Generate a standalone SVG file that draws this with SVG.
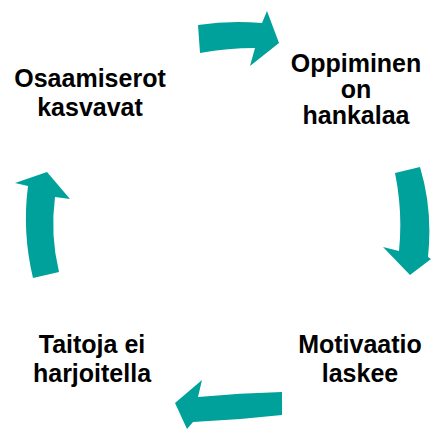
<svg xmlns="http://www.w3.org/2000/svg" width="431" height="430" viewBox="0 0 431 430">
<style>
.arr{fill:#00A19A;stroke:none}
.lbl{font-family:"Liberation Sans",Arial,sans-serif;font-weight:bold;font-size:25px;fill:#000;text-anchor:middle}
</style>
<rect width="431" height="430" fill="#fff"/>
<g id="connectors">
<path class="arr" d="M198,25 Q230,20 262,23 L267,11 L279,43 L250,66 L255,48 Q228,48 200,53 Z"/>
<path class="arr" d="M395,173 Q403,212 399,251 L383,247 L410,275 L431,259 L428,257 Q433,210 420,167 Z"/>
<path class="arr" d="M282,392 Q240,393 198,397 L202,380 L175,403 L187,429 L193,422 Q238,420 282,415 Z"/>
<path class="arr" d="M47,172 L15,183 L28,186 Q22,232 33,278 L59,272 Q50,235 55,197 L70,199 Z"/>
</g>
<g id="node1"><text class="lbl" x="90" y="87">Osaamiserot</text><text class="lbl" x="90" y="116">kasvavat</text></g>
<g id="node2"><text class="lbl" x="356" y="72">Oppiminen</text><text class="lbl" x="356" y="98">on</text><text class="lbl" x="356" y="124">hankalaa</text></g>
<g id="node3"><text class="lbl" x="360" y="353">Motivaatio</text><text class="lbl" x="360" y="382">laskee</text></g>
<g id="node4"><text class="lbl" x="92" y="353">Taitoja ei</text><text class="lbl" x="92" y="382">harjoitella</text></g>
</svg>
